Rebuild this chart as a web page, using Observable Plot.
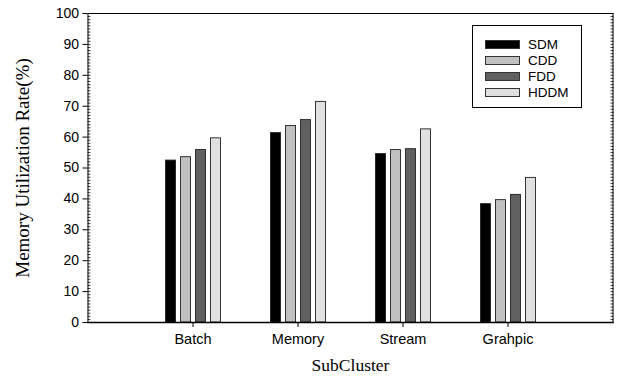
<!DOCTYPE html>
<html>
<head>
<meta charset="utf-8">
<script src="https://cdn.jsdelivr.net/npm/d3@7"></script>
<script src="https://cdn.jsdelivr.net/npm/@observablehq/plot@0.6"></script>
<style>
  html, body { margin: 0; padding: 0; background: #fff; }
  #wrap { position: relative; width: 618px; height: 379px; }
  #wrap svg { display: block; }
  #legend {
    position: absolute; left: 472px; top: 25px; width: 110px; height: 83px;
    border: 1px solid #000; background: #fff; box-sizing: border-box;
    font-family: "Liberation Sans", Arial, sans-serif; font-size: 13.5px; color: #000;
    padding-top: 10px;
  }
  .row { display: flex; align-items: center; height: 16.2px; }
  .sw { width: 35px; height: 9px; box-sizing: border-box; border: 1px solid #333; margin-left: 12px; margin-right: 8px; }
</style>
</head>
<body>
<div id="wrap"><div id="legend"></div></div>
<script>
// ---- data ----
const categories = ["Batch", "Memory", "Stream", "Grahpic"];
const series = ["SDM", "CDD", "FDD", "HDDM"];
const SDM  = [52.4, 61.3, 54.5, 38.3];
const CDD  = [53.5, 63.6, 55.8, 39.6];
const FDD  = [55.8, 65.5, 56.1, 41.3];
const HDDM = [59.6, 71.4, 62.5, 46.8];
const yTicks = [0, 10, 20, 30, 40, 50, 60, 70, 80, 90, 100];
const yMinorTicks = d3.range(0, 101, 1);
const seriesColors = ["#000000", "#c0c0c0", "#606060", "#e0e0e0"];
const xTitle = "SubCluster";
const yTitle = "Memory Utilization Rate(%)";

const valuesBySeries = [SDM, CDD, FDD, HDDM];
const data = categories.flatMap((c, i) =>
  series.map((s, j) => ({ category: c, series: s, value: valuesBySeries[j][i] }))
);

// layout: the frame spans categories.length + 1 steps; the facets fill the inner part
const W = 618, H = 379, frameLeft = 87, frameRight = 6;
const half = (W - frameLeft - frameRight) / (categories.length + 1) / 2;
const minorLen = 3;
const serif = "'Liberation Serif', 'Times New Roman', serif";

const chart = Plot.plot({
  width: W,
  height: H,
  marginLeft: frameLeft + half,
  marginRight: frameRight + half,
  marginTop: 13,
  marginBottom: 57,
  style: { fontFamily: "'Liberation Sans', Arial, sans-serif", fontSize: "14px", color: "#000", background: "#fff" },
  fx: { domain: categories, padding: 0, label: null },
  x: { domain: series, paddingInner: 0.34, paddingOuter: 1.47, axis: null },
  y: { domain: [0, 100], label: null },
  color: { domain: series, range: seriesColors },
  marks: [
    Plot.barY(data, { fx: "category", x: "series", y: "value", fill: "series", stroke: "#222", strokeWidth: 0.9 }),
    Plot.axisY({ ticks: yTicks, tickSize: 5, tickPadding: 4, dx: -half, label: null, fontSize: 14 }),
    Plot.axisY({ ticks: yMinorTicks, tickSize: minorLen, dx: -half + minorLen, tickFormat: () => "", label: null, strokeOpacity: 0.75 }),
    Plot.axisY({ anchor: "right", ticks: yMinorTicks, tickSize: minorLen, dx: half - minorLen, tickFormat: () => "", label: null, strokeOpacity: 0.75 }),
    Plot.frame({ facet: "super", stroke: "#000", strokeWidth: 1, insetLeft: -half, insetRight: -half }),
    Plot.frame({ facet: "super", anchor: "bottom", stroke: "#000", strokeWidth: 1.6, insetLeft: -half, insetRight: -half }),
    Plot.axisFx({ anchor: "bottom", tickSize: 5, tickPadding: 6, label: null, fontSize: 14.5 }),
    Plot.text([xTitle], { facet: "super", text: d => d, frameAnchor: "bottom", dy: 48, fontFamily: serif, fontSize: 17.5 }),
    Plot.text([yTitle], { facet: "super", text: d => d, frameAnchor: "left", textAnchor: "middle", rotate: -90, dx: -65 - half, fontFamily: serif, fontSize: 19 })
  ]
});
document.getElementById("wrap").prepend(chart);

const legend = document.getElementById("legend");
series.forEach((s, i) => {
  const row = document.createElement("div");
  row.className = "row";
  const sw = document.createElement("div");
  sw.className = "sw";
  sw.style.background = seriesColors[i];
  const lab = document.createElement("span");
  lab.textContent = s;
  row.append(sw, lab);
  legend.append(row);
});
</script>
</body>
</html>
